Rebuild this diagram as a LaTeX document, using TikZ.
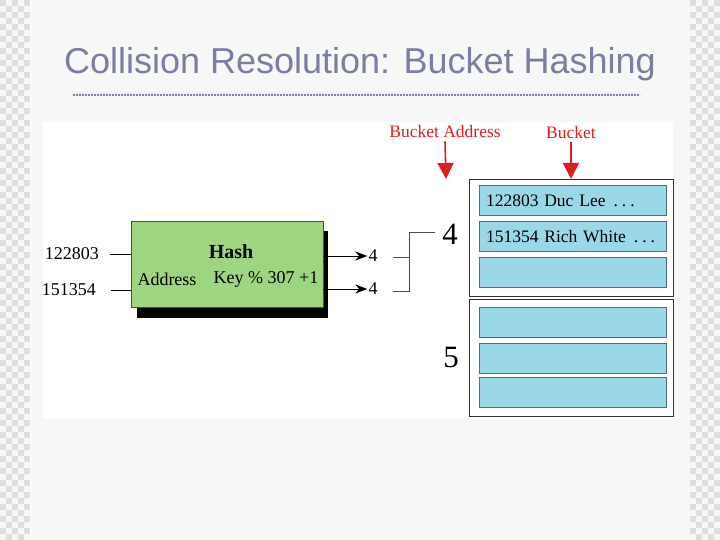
\documentclass[tikz,border=0pt]{standalone}
\usepackage{fontspec}
\setmainfont{Liberation Serif}
\newfontfamily\titlefont{Liberation Sans}
\usetikzlibrary{arrows.meta,positioning}
\definecolor{slide}{RGB}{247,247,247}
\definecolor{checker}{RGB}{222,222,222}
\definecolor{titlegray}{RGB}{122,127,160}
\definecolor{hashgreen}{RGB}{158,213,128}
\definecolor{rowblue}{RGB}{154,216,232}
\definecolor{rowedge}{RGB}{80,110,120}
\definecolor{labelred}{RGB}{222,30,30}
\newcommand{\moredots}{\hspace{8pt}.\hspace{4pt}.\hspace{4pt}.}
\tikzset{
  row/.style={draw=rowedge,fill=rowblue,minimum width=187pt,minimum height=30pt,
    inner sep=0pt,text width=173pt,align=left,font=\fontsize{17.5}{19}\selectfont},
  bucketbox/.style={draw=black!80,fill=white,thick,minimum width=204pt,minimum height=117pt,inner sep=0pt},
  key/.style={font=\fontsize{18}{20}\selectfont,inner sep=1pt},
  redlabel/.style={text=labelred,font=\fontsize{17.5}{19}\selectfont,inner sep=0pt},
  redarrow/.style={draw=labelred,line width=1.6pt,-{Triangle[width=16pt,length=16pt]}}
}
\begin{document}
\begin{tikzpicture}[x=1pt,y=-1pt,>={Stealth[length=12pt,width=9pt]}]
    % slide background
    \fill[slide] (0,0) rectangle (720,540);
    \useasboundingbox (0,0) rectangle (720,540);
    \foreach \cx in {0,6,...,24}{%
      \foreach \cy in {0,6,...,534}{%
        \pgfmathtruncatemacro{\cpar}{mod(round(\cx/6+\cy/6),2)}
        \ifnum\cpar=0
          \fill[checker] (\cx,\cy) rectangle ++(6,6);
          \fill[checker] (\cx+690,\cy) rectangle ++(6,6);
        \fi}}
    \fill[white] (30,0) rectangle (31,540);
    % title
    \node[text=titlegray,font=\titlefont\fontsize{36}{40}\selectfont] (title) at (360,64) {Collision Resolution: Bucket Hashing};
    \draw[titlegray,line width=2pt,dash pattern=on 2pt off 1pt] (73,95) -- (640,95);
    % white panel
    \fill[white] (43,122) rectangle (673,418);
    % red labels
    \node[redlabel] (baddr) at (445,132) {Bucket Address};
    \node[redlabel] (bname) at (571,133) {Bucket};
    \coordinate (baddrtip) at (446,179);
    \coordinate (bnametip) at (571,179);
    \draw[redarrow] (baddr.south) ++(0,3) -- (baddrtip);
    \draw[redarrow] (bname.south) ++(0,3) -- (bnametip);
    % hash function
    \fill (137,231) rectangle (328,318);
    \node[draw=black!70,fill=hashgreen,minimum width=192pt,minimum height=86pt,inner sep=0pt] (hash) at (227,264) {};
    \node[font=\bfseries\fontsize{20}{22}\selectfont] (hashname) at (231,252) {Hash};
    \node[key] (haddr) at (167,279) {Address};
    \node[key] (hform) at (266,279) {Key \% 307 +1};
    % keys in
    \node[key,anchor=east] (k1) at (100,254) {122803};
    \node[key,anchor=east] (k2) at (97,290) {151354};
    \draw (k1.east) ++(10,0) -- (hash.west |- k1);
    \draw (k2.east) ++(14,0) -- (hash.west |- k2);
    % addresses out
    \node[key] (a1) at (373,256) {4};
    \node[key] (a2) at (373,289) {4};
    \draw[->,line width=0.8pt] (hash.east |- a1) -- (a1.west);
    \draw[->,line width=0.8pt] (hash.east |- a2) -- (a2.west);
    % bracket
    \coordinate (brtop) at (409,232);
    \coordinate (brbot) at (409,291);
    \draw[black!70] (393,257) -- (409,257);
    \draw[black!70] (393,291) -- (brbot) -- (brtop) -- (435,232);
    % bucket addresses
    \node[font=\fontsize{31}{33}\selectfont] (addr4) at (450,234) {4};
    \node[font=\fontsize{31}{33}\selectfont] (addr5) at (451,358) {5};
    % bucket 4
    \node[bucketbox] (bucketA) at (571,237.5) {};
    \node[row] (r1) at (572.5,200.5) {\mbox{122803 Duc Lee\moredots}};
    \node[row] (r2) at (572.5,236.5) {\mbox{151354 Rich White\moredots}};
    \node[row] (r3) at (572.5,272.5) {};
    % bucket 5
    \node[bucketbox] (bucketB) at (571,358) {};
    \node[row] (r4) at (572.5,322) {};
    \node[row] (r5) at (572.5,358) {};
    \node[row] (r6) at (572.5,392) {};
\end{tikzpicture}
\end{document}
